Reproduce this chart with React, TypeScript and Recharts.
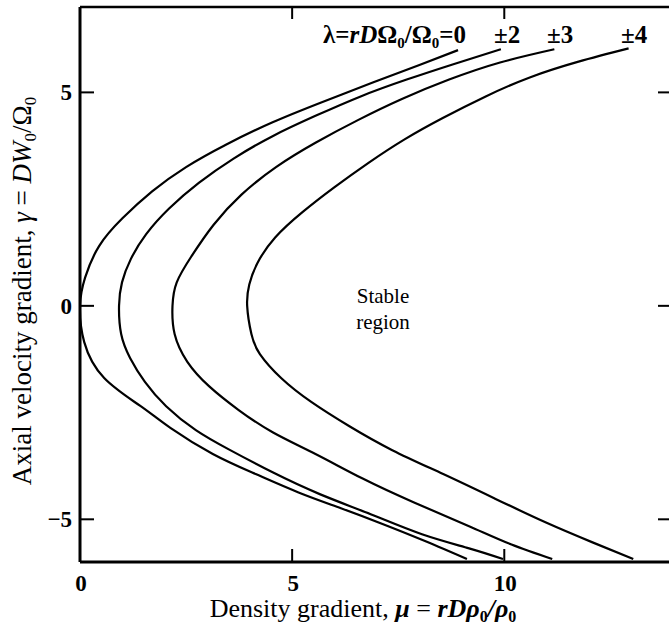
import React from 'react';
import { LineChart, Line, XAxis, YAxis } from 'recharts';

// Curves: [mu (density gradient), gamma (axial velocity gradient)], ordered top -> tip -> bottom
const curveL0: [number, number][] = [
  [8.91, 5.99], [8.0, 5.64], [6.9, 5.23], [5.7, 4.77], [4.54, 4.3], [3.45, 3.78],
  [2.5, 3.25], [1.7, 2.68], [1.0, 2.05], [0.45, 1.4], [0.12, 0.66], [0.0, 0.0],
  [0.1, -0.85], [0.57, -1.69], [1.43, -2.35], [2.13, -2.86], [3.13, -3.47], [4.14, -3.94],
  [5.15, -4.37], [6.15, -4.74], [7.16, -5.12], [8.16, -5.52], [9.12, -5.93],
];
const curveL2: [number, number][] = [
  [9.92, 6.01], [8.8, 5.66], [7.7, 5.3], [6.6, 4.9], [5.55, 4.45], [4.55, 3.98],
  [3.62, 3.45], [2.8, 2.88], [2.1, 2.28], [1.56, 1.68], [1.2, 1.1], [0.99, 0.55], [0.92, 0.0],
  [0.97, -0.66], [1.18, -1.22], [1.53, -1.78], [2.03, -2.35], [2.73, -2.91], [3.54, -3.38],
  [4.54, -3.9], [5.65, -4.41], [6.85, -4.88], [8.06, -5.35], [9.17, -5.68], [9.97, -5.93],
];
const curveL3: [number, number][] = [
  [11.18, 6.01], [9.9, 5.7], [8.7, 5.3], [7.6, 4.85], [6.55, 4.35], [5.55, 3.82],
  [4.62, 3.25], [3.8, 2.6], [3.15, 1.9], [2.62, 1.15], [2.28, 0.55], [2.18, 0.0],
  [2.23, -0.66], [2.53, -1.31], [3.04, -1.88], [3.74, -2.44], [4.54, -2.96], [5.55, -3.47],
  [6.65, -4.04], [7.86, -4.6], [9.17, -5.16], [10.17, -5.59], [11.13, -5.93],
];
const curveL4: [number, number][] = [
  [12.93, 6.03], [11.75, 5.72], [10.6, 5.35], [9.55, 4.9], [8.55, 4.4], [7.65, 3.9],
  [6.8, 3.35], [6.0, 2.78], [5.25, 2.2], [4.6, 1.6], [4.18, 1.0], [3.99, 0.5], [3.94, 0.0],
  [4.04, -0.66], [4.24, -1.13], [4.74, -1.69], [5.45, -2.25], [6.35, -2.82], [7.36, -3.38],
  [8.56, -3.94], [9.77, -4.51], [10.97, -5.07], [12.08, -5.54], [13.04, -5.93],
];

const curves = [curveL0, curveL2, curveL3, curveL4];
const curveLabels = ['0', '±2', '±3', '±4'];

const xTicks = [0, 5, 10];
const xTopTicks = [5, 10];
const yTicks = [-5, 0, 5];
const xDomain: [number, number] = [0, 14];
const yDomain: [number, number] = [-6, 7];

const xTitle = 'Density gradient';
const yTitle = 'Axial velocity gradient';
const regionLines = ['Stable', 'region'];

const SERIF = '"Liberation Serif", "DejaVu Serif", serif';

const fmt = (v: number) => (v < 0 ? '\u2212' + Math.abs(v) : String(v));

const BottomTick = (props: any) => {
  const { x, y, payload } = props;
  const v = payload.value;
  return (
    <g>
      {v !== 0 && <line x1={x} y1={y} x2={x} y2={y - 13} stroke="#000" strokeWidth={2} />}
      <text x={x + 1} y={y + 29} textAnchor="middle" fontFamily={SERIF} fontWeight="bold" fontSize={23} fill="#000">
        {fmt(v)}
      </text>
    </g>
  );
};

const TopTick = (props: any) => {
  const { x, y } = props;
  return <line x1={x} y1={y} x2={x} y2={y + 12} stroke="#000" strokeWidth={2} />;
};

const LeftTick = (props: any) => {
  const { x, y, payload } = props;
  return (
    <g>
      <line x1={x} y1={y} x2={x + 14} y2={y} stroke="#000" strokeWidth={2} />
      <text x={x - 8} y={y} dy="0.35em" textAnchor="end" fontFamily={SERIF} fontWeight="bold" fontSize={23} fill="#000">
        {fmt(payload.value)}
      </text>
    </g>
  );
};

const RightTick = (props: any) => {
  const { x, y } = props;
  return <line x1={x} y1={y} x2={x - 16} y2={y} stroke="#000" strokeWidth={2} />;
};

export default function App() {
  return (
    <div
      style={{
        position: 'absolute',
        left: 0,
        top: 0,
        width: 669,
        height: 631,
        overflow: 'hidden',
        background: '#fff',
      }}
    >
      <LineChart width={680} height={631} margin={{ top: 0, right: 0, bottom: 0, left: 0 }}>
        <XAxis
          xAxisId={0}
          type="number"
          dataKey="x"
          domain={xDomain}
          ticks={xTicks}
          interval={0}
          height={69}
          tickSize={0}
          tickMargin={0}
          tickLine={false}
          axisLine={{ stroke: '#000', strokeWidth: 3 }}
          tick={<BottomTick />}
          allowDataOverflow
        />
        <XAxis
          xAxisId="top"
          orientation="top"
          type="number"
          dataKey="x"
          domain={xDomain}
          ticks={xTopTicks}
          interval={0}
          height={7}
          tickSize={0}
          tickMargin={0}
          tickLine={false}
          axisLine={{ stroke: '#000', strokeWidth: 2.5 }}
          tick={<TopTick />}
          allowDataOverflow
        />
        <YAxis
          yAxisId={0}
          type="number"
          dataKey="y"
          domain={yDomain}
          ticks={yTicks}
          interval={0}
          width={80}
          tickSize={0}
          tickMargin={0}
          tickLine={false}
          axisLine={{ stroke: '#000', strokeWidth: 3 }}
          tick={<LeftTick />}
          allowDataOverflow
        />
        <YAxis
          yAxisId="right"
          orientation="right"
          type="number"
          dataKey="y"
          domain={yDomain}
          ticks={yTicks}
          interval={0}
          width={6}
          tickSize={0}
          tickMargin={0}
          tickLine={false}
          axisLine={{ stroke: '#000', strokeWidth: 3 }}
          tick={<RightTick />}
          allowDataOverflow
        />
        {curves.map((c, i) => (
          <Line
            key={curveLabels[i]}
            xAxisId={0}
            yAxisId={0}
            data={c.map(([x, y]) => ({ x, y }))}
            dataKey="y"
            type="natural"
            stroke="#000"
            strokeWidth={2.2}
            dot={false}
            activeDot={false}
            isAnimationActive={false}
          />
        ))}
      </LineChart>
      <svg
        width={669}
        height={631}
        style={{ position: 'absolute', left: 0, top: 0, pointerEvents: 'none' }}
        fontFamily={SERIF}
      >
        {/* curve labels */}
        <text x={323} y={43} fontSize={25} fontWeight="bold" fill="#000">
          λ=<tspan fontStyle="italic">rD</tspan>Ω<tspan fontSize={15} dy={5}>0</tspan>
          <tspan dy={-5}>/Ω</tspan><tspan fontSize={15} dy={5}>0</tspan>
          <tspan dy={-5}>={curveLabels[0]}</tspan>
        </text>
        <text x={494} y={43} fontSize={25} fontWeight="bold" fill="#000">{curveLabels[1]}</text>
        <text x={547} y={43} fontSize={25} fontWeight="bold" fill="#000">{curveLabels[2]}</text>
        <text x={621} y={43} fontSize={25} fontWeight="bold" fill="#000">{curveLabels[3]}</text>

        {/* Stable region */}
        <text x={383} y={303} fontSize={21} textAnchor="middle" fill="#000">{regionLines[0]}</text>
        <text x={383} y={329} fontSize={21} textAnchor="middle" fill="#000">{regionLines[1]}</text>

        {/* X title */}
        <text x={363} y={617} fontSize={26} textAnchor="middle" fill="#000">
          {xTitle}, <tspan fontStyle="italic" fontWeight="bold">μ</tspan> = <tspan fontStyle="italic" fontWeight="bold">rDρ</tspan>
          <tspan fontSize={16} dy={5} fontWeight="bold">0</tspan>
          <tspan dy={-5} fontStyle="italic" fontWeight="bold">/ρ</tspan>
          <tspan fontSize={16} dy={5} fontWeight="bold">0</tspan>
        </text>

        {/* Y title */}
        <text
          x={0}
          y={0}
          transform="translate(31, 291) rotate(-90)"
          fontSize={27}
          textAnchor="middle"
          fill="#000"
        >
          {yTitle}, <tspan fontStyle="italic">γ</tspan> = <tspan fontStyle="italic">DW</tspan>
          <tspan fontSize={17} dy={5}>0</tspan>
          <tspan dy={-5}>/Ω</tspan>
          <tspan fontSize={17} dy={5}>0</tspan>
        </text>
      </svg>
    </div>
  );
}
